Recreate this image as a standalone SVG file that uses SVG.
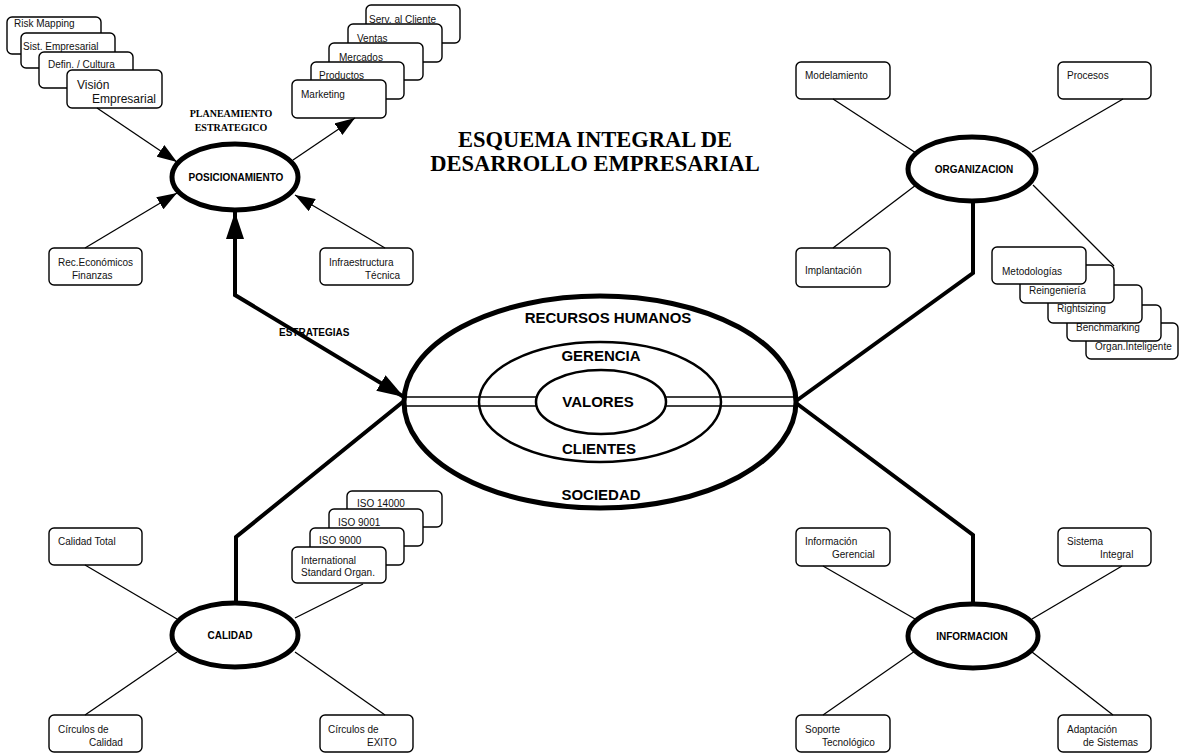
<svg xmlns="http://www.w3.org/2000/svg" width="1180" height="755" viewBox="0 0 1180 755">
<style>
.box{fill:#fff;stroke:#000;stroke-width:1.4}
.t{font-family:"Liberation Sans",Arial,sans-serif;font-size:10px;fill:#111}
.t12{font-size:12px}
.b{font-weight:bold;fill:#000}
.big{font-family:"Liberation Sans",Arial,sans-serif;font-size:15px;font-weight:bold;fill:#000;text-anchor:middle}
.title{font-family:"Liberation Serif","Times New Roman",serif;font-size:22.5px;font-weight:bold;fill:#000;text-anchor:middle}
.serif10{font-family:"Liberation Serif","Times New Roman",serif;font-size:10px;font-weight:bold;fill:#000;text-anchor:middle}
.mid{text-anchor:middle}
.ell{fill:#fff;stroke:#000;stroke-width:5}
.ln{stroke:#000;stroke-width:1.3;fill:none}
.thick{stroke:#000;stroke-width:4;fill:none;stroke-linejoin:miter}
.dbl{stroke:#000;stroke-width:1.5;fill:none}
</style>
<defs>
<marker id="arr" markerUnits="userSpaceOnUse" markerWidth="20" markerHeight="14" refX="20" refY="7" orient="auto">
<path d="M0,0 L20,7 L0,14 z" fill="#000"/>
</marker>
<marker id="arrB" markerUnits="userSpaceOnUse" markerWidth="27" markerHeight="18" refX="27" refY="9" orient="auto-start-reverse">
<path d="M0,0 L27,9 L0,18 z" fill="#000"/>
</marker>
</defs>
<rect width="1180" height="755" fill="#fff"/>

<g id="title">
<text class="title" x="595" y="147">ESQUEMA INTEGRAL DE</text>
<text class="title" x="595" y="171">DESARROLLO EMPRESARIAL</text>
</g>

<!-- Central ellipse -->
<g id="centro">
<ellipse cx="600" cy="402" rx="196" ry="106" fill="#fff" stroke="#000" stroke-width="5"/>
<ellipse cx="600" cy="402" rx="121" ry="60" fill="none" stroke="#000" stroke-width="2.5"/>
<line class="dbl" x1="404" y1="397" x2="536" y2="397"/>
<line class="dbl" x1="404" y1="406" x2="536" y2="406"/>
<line class="dbl" x1="666" y1="397" x2="796" y2="397"/>
<line class="dbl" x1="666" y1="406" x2="796" y2="406"/>
<ellipse cx="601" cy="402" rx="65" ry="32" fill="#fff" stroke="#000" stroke-width="2.5"/>
<text class="big" x="608" y="323">RECURSOS HUMANOS</text>
<text class="big" x="601" y="361">GERENCIA</text>
<text class="big" x="598" y="407">VALORES</text>
<text class="big" x="599" y="454">CLIENTES</text>
<text class="big" x="601" y="500">SOCIEDAD</text>
</g>

<!-- POSICIONAMIENTO -->
<g id="posicionamiento">
<ellipse class="ell" cx="235" cy="177" rx="63" ry="33"/>
<text class="t b mid" x="236" y="181">POSICIONAMIENTO</text>
</g>
<g id="planeamiento">
<text class="serif10" x="231" y="117">PLANEAMIENTO</text>
<text class="serif10" x="231" y="131">ESTRATEGICO</text>
</g>

<g id="risk"><rect class="box" x="7" y="17" width="94" height="37" rx="5"/><text class="t" x="14" y="27">Risk Mapping</text></g>
<g id="sist"><rect class="box" x="21" y="33" width="94" height="35" rx="5"/><text class="t" x="23" y="50">Sist. Empresarial</text></g>
<g id="defin"><rect class="box" x="39" y="52" width="94" height="36" rx="5"/><text class="t" x="48" y="68">Defin. / Cultura</text></g>
<g id="vision"><rect class="box" x="67" y="70" width="95" height="38" rx="5"/><text class="t t12" x="77" y="89">Visión</text><text class="t t12" x="92" y="103">Empresarial</text></g>

<g id="serv"><rect class="box" x="366" y="5" width="94" height="38" rx="5"/><text class="t" x="369" y="23">Serv. al Cliente</text></g>
<g id="ventas"><rect class="box" x="348" y="24" width="94" height="38" rx="5"/><text class="t" x="357" y="42">Ventas</text></g>
<g id="mercados"><rect class="box" x="329" y="43" width="94" height="37" rx="5"/><text class="t" x="339" y="61">Mercados</text></g>
<g id="productos"><rect class="box" x="311" y="62" width="93" height="37" rx="5"/><text class="t" x="319" y="79">Productos</text></g>
<g id="marketing"><rect class="box" x="292" y="80" width="94" height="38" rx="5"/><text class="t" x="301" y="98">Marketing</text></g>

<g id="rec"><rect class="box" x="49" y="248" width="93" height="37" rx="5"/><text class="t" x="58" y="266">Rec.Económicos</text><text class="t" x="72" y="279">Finanzas</text></g>
<g id="infra"><rect class="box" x="320" y="248" width="93" height="37" rx="5"/><text class="t" x="329" y="266">Infraestructura</text><text class="t" x="400" y="279" text-anchor="end">Técnica</text></g>

<g id="estrategias-label"><text class="t b" x="279" y="336">ESTRATEGIAS</text></g>

<!-- ORGANIZACION -->
<g id="organizacion">
<ellipse class="ell" cx="972" cy="169" rx="64" ry="32"/>
<text class="t b mid" x="974" y="173">ORGANIZACION</text>
</g>
<g id="modelamiento"><rect class="box" x="796" y="62" width="94" height="37" rx="5"/><text class="t" x="805" y="79">Modelamiento</text></g>
<g id="procesos"><rect class="box" x="1058" y="62" width="93" height="37" rx="5"/><text class="t" x="1067" y="79">Procesos</text></g>
<g id="implantacion"><rect class="box" x="796" y="248" width="94" height="39" rx="5"/><text class="t" x="805" y="274">Implantación</text></g>
<g id="organ"><rect class="box" x="1086" y="323" width="92" height="36" rx="5"/><text class="t" x="1095" y="350">Organ.Inteligente</text></g>
<g id="bench"><rect class="box" x="1067" y="305" width="94" height="36" rx="5"/><text class="t" x="1076" y="331">Benchmarking</text></g>
<g id="rights"><rect class="box" x="1048" y="285" width="94" height="38" rx="5"/><text class="t" x="1057" y="312">Rightsizing</text></g>
<g id="reing"><rect class="box" x="1020" y="265" width="94" height="38" rx="5"/><text class="t" x="1029" y="294">Reingeniería</text></g>
<g id="metod"><rect class="box" x="992" y="247" width="94" height="37" rx="5"/><text class="t" x="1002" y="275">Metodologías</text></g>

<!-- CALIDAD -->
<g id="calidad">
<ellipse class="ell" cx="235" cy="635" rx="63" ry="32"/>
<text class="t b mid" x="230" y="639">CALIDAD</text>
</g>
<g id="caltotal"><rect class="box" x="49" y="528" width="93" height="37" rx="5"/><text class="t" x="58" y="545">Calidad Total</text></g>
<g id="circcal"><rect class="box" x="49" y="715" width="93" height="37" rx="5"/><text class="t" x="58" y="733">Círculos de</text><text class="t" x="89" y="746">Calidad</text></g>
<g id="circexito"><rect class="box" x="320" y="715" width="93" height="37" rx="5"/><text class="t" x="328" y="733">Círculos de</text><text class="t" x="367" y="746">EXITO</text></g>
<g id="iso14000"><rect class="box" x="347" y="491" width="95" height="36" rx="5"/><text class="t" x="357" y="507">ISO 14000</text></g>
<g id="iso9001"><rect class="box" x="329" y="509" width="94" height="37" rx="5"/><text class="t" x="338" y="526">ISO 9001</text></g>
<g id="iso9000"><rect class="box" x="310" y="528" width="94" height="37" rx="5"/><text class="t" x="319" y="544">ISO 9000</text></g>
<g id="intl"><rect class="box" x="292" y="547" width="94" height="36" rx="5"/><text class="t" x="301" y="564">International</text><text class="t" x="301" y="576">Standard Organ.</text></g>

<!-- INFORMACION -->
<g id="informacion">
<ellipse class="ell" cx="973" cy="636" rx="65" ry="32"/>
<text class="t b mid" x="972" y="640">INFORMACION</text>
</g>
<g id="infger"><rect class="box" x="796" y="528" width="94" height="38" rx="5"/><text class="t" x="805" y="545">Información</text><text class="t" x="832" y="558">Gerencial</text></g>
<g id="sisint"><rect class="box" x="1058" y="528" width="93" height="38" rx="5"/><text class="t" x="1067" y="545">Sistema</text><text class="t" x="1100" y="558">Integral</text></g>
<g id="soporte"><rect class="box" x="796" y="715" width="94" height="37" rx="5"/><text class="t" x="805" y="733">Soporte</text><text class="t" x="822" y="746">Tecnológico</text></g>
<g id="adapt"><rect class="box" x="1058" y="715" width="93" height="37" rx="5"/><text class="t" x="1067" y="733">Adaptación</text><text class="t" x="1083" y="746">de Sistemas</text></g>

<g id="connectors">
<line class="ln" x1="97" y1="108" x2="177" y2="162" marker-end="url(#arr)"/>
<line class="ln" x1="293" y1="160" x2="355" y2="118" marker-end="url(#arr)"/>
<line class="ln" x1="85" y1="248" x2="177" y2="193" marker-end="url(#arr)"/>
<line class="ln" x1="385" y1="248" x2="295" y2="195" marker-end="url(#arr)"/>
<path class="thick" d="M235,212 L235,295 L404,397" marker-start="url(#arrB)" marker-end="url(#arrB)"/>
<path class="thick" d="M404,401 L236,537 L236,603"/>
<path class="thick" d="M796,401 L973,273 L973,201"/>
<path class="thick" d="M796,403 L973,535 L973,604"/>
<line class="ln" x1="833" y1="99" x2="916" y2="153"/>
<line class="ln" x1="1123" y1="99" x2="1032" y2="152"/>
<line class="ln" x1="833" y1="248" x2="916" y2="185"/>
<line class="ln" x1="1033" y1="185" x2="1114" y2="266"/>
<line class="ln" x1="85" y1="565" x2="177" y2="619"/>
<line class="ln" x1="363" y1="584" x2="295" y2="618"/>
<line class="ln" x1="85" y1="715" x2="177" y2="652"/>
<line class="ln" x1="385" y1="715" x2="295" y2="652"/>
<line class="ln" x1="823" y1="566" x2="915" y2="619"/>
<line class="ln" x1="1122" y1="566" x2="1032" y2="619"/>
<line class="ln" x1="823" y1="715" x2="915" y2="651"/>
<line class="ln" x1="1113" y1="715" x2="1032" y2="652"/>
</g>
</svg>
